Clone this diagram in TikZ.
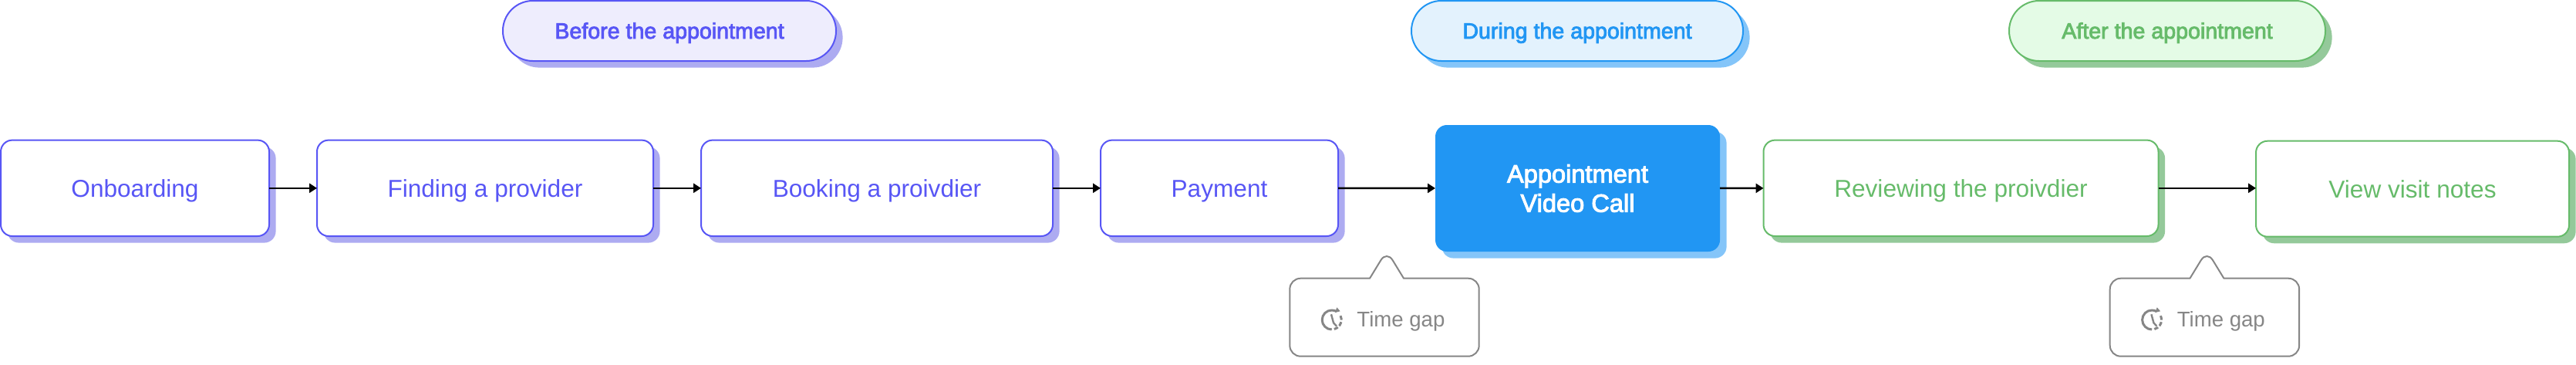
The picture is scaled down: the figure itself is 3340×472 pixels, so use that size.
\documentclass[tikz,border=0pt]{standalone}
\usepackage{xcolor}
\usepackage{fontspec}
\usepackage{tikz}
\usetikzlibrary{arrows.meta,positioning,shadows}
\setmainfont{Liberation Sans}
\newfontfamily\medfont[FakeBold=3]{Liberation Sans}
\definecolor{apptpurple}{HTML}{5856F5}
\definecolor{apptpurplelight}{HTML}{EEEDFD}
\definecolor{apptpurpleshade}{HTML}{ADABF1}
\definecolor{apptblue}{HTML}{2196F3}
\definecolor{apptbluelight}{HTML}{E3F2FD}
\definecolor{apptblueshade}{HTML}{84C5F9}
\definecolor{apptgreen}{HTML}{66BB6A}
\definecolor{apptgreenlight}{HTML}{E4FBE6}
\definecolor{apptgreenshade}{HTML}{94C99A}
\definecolor{gapgrey}{HTML}{868686}
\tikzset{
  stagebox/.style={rectangle,rounded corners=7.5pt,line width=1pt,outer sep=0pt,inner sep=0pt,
    minimum height=62.2pt,align=center,fill=white,text height=11.4pt,text depth=0pt,font=\fontsize{15.8}{19}\selectfont},
  stagepill/.style={rectangle,rounded corners=19.4pt,line width=1pt,outer sep=0pt,inner sep=0pt,
    minimum height=39pt,text height=10pt,text depth=0pt,font=\medfont\fontsize{14.3}{17}\selectfont},
  purplebox/.style={draw=apptpurple,text=apptpurple,copy shadow={shadow xshift=4.3pt,shadow yshift=-4.3pt,draw=none,fill=apptpurpleshade}},
  greenbox/.style={draw=apptgreen,text=apptgreen,copy shadow={shadow xshift=4.3pt,shadow yshift=-4.3pt,draw=none,fill=apptgreenshade}},
  bluebox/.style={draw=apptblue,text=apptblue,copy shadow={shadow xshift=4.3pt,shadow yshift=-4.3pt,draw=none,fill=apptblueshade}},
  flowarrow/.style={black,line width=1.3pt,-{Triangle[length=5pt,width=6pt]}},
  gapline/.style={gapgrey,line width=1pt,line join=round},
  gaptext/.style={text=gapgrey,inner sep=0pt,anchor=west,text height=10pt,text depth=0pt,font=\fontsize{13.8}{17}\selectfont},
}
\begin{document}
\begin{tikzpicture}[x=0.5pt,y=-0.5pt]
  \useasboundingbox (0,0) rectangle (3340,472);

  % Stage labels
  \node[stagepill,purplebox,fill=apptpurplelight,minimum width=216pt] (before) at (868,40) {Before the appointment};
  \node[stagepill,bluebox,fill=apptbluelight,minimum width=215pt] (during) at (2045,40) {During the appointment};
  \node[stagepill,greenbox,fill=apptgreenlight,minimum width=205pt] (after) at (2810,40) {After the appointment};

  % Steps before
  \node[stagebox,purplebox,minimum width=174pt] (onboarding) at (175,243.8) {Onboarding};
  \node[stagebox,purplebox,minimum width=218pt] (finding) at (629,243.8) {Finding a provider};
  \node[stagebox,purplebox,minimum width=228pt] (booking) at (1137,243.8) {Booking a proivdier};
  \node[stagebox,purplebox,minimum width=154pt] (payment) at (1581,243.8) {Payment};

  % Appointment
  \node[stagebox,bluebox,draw=none,fill=apptblue,text=white,minimum width=184.5pt,minimum height=82pt,
    text height={},text depth={},font=\medfont\fontsize{16.3}{19}\selectfont] (call) at (2045.5,244) {Appointment\\Video Call};

  % Steps after
  \node[stagebox,greenbox,minimum width=256pt] (review) at (2542.5,243.8) {Reviewing the proivdier};
  \node[stagebox,greenbox,minimum width=203pt,minimum height=62pt] (notes) at (3128,244.7) {View visit notes};

  % Arrows
  \draw[flowarrow] (onboarding) -- (finding);
  \draw[flowarrow] (finding) -- (booking);
  \draw[flowarrow] (booking) -- (payment);
  \draw[flowarrow] (payment) -- (call);
  \draw[flowarrow] (call) -- (review);
  \draw[flowarrow] (review.east) -- (review.east -| notes.west);

  % Time gaps
  \foreach \gapname/\gapx in {gapone/1672.3,gaptwo/2735.7} {
    \begin{scope}[shift={(\gapx,360.7)}]
      \draw[gapline] (103.7,0) [rounded corners=7pt] -- (0,0) -- (0,101) -- (245.4,101) -- (245.4,0)
        [sharp corners] -- (147.7,0) [rounded corners=7.3pt] -- (125.7,-36) [sharp corners] -- cycle;
      \node[gaptext] (\gapname) at (86.7,53) {Time gap};
      % clock icon
      \draw[gapline,line width=1.5pt] (54.4,66.3) arc[start angle=90,end angle=300,radius=12.5];
      \draw[gapline,line width=1.5pt,dash pattern=on 2.8pt off 1.3pt] (65.7,48.5) arc[start angle=-25,end angle=75,radius=12.5];
      \fill[gapgrey] (61,37.6) -- (65.4,42.6) -- (58.7,44.3) -- cycle;
      \draw[gapline,line width=1.2pt] (53.7,46.6) -- (56.7,57.6) -- (60.7,62);
    \end{scope}
  }
\end{tikzpicture}
\end{document}
